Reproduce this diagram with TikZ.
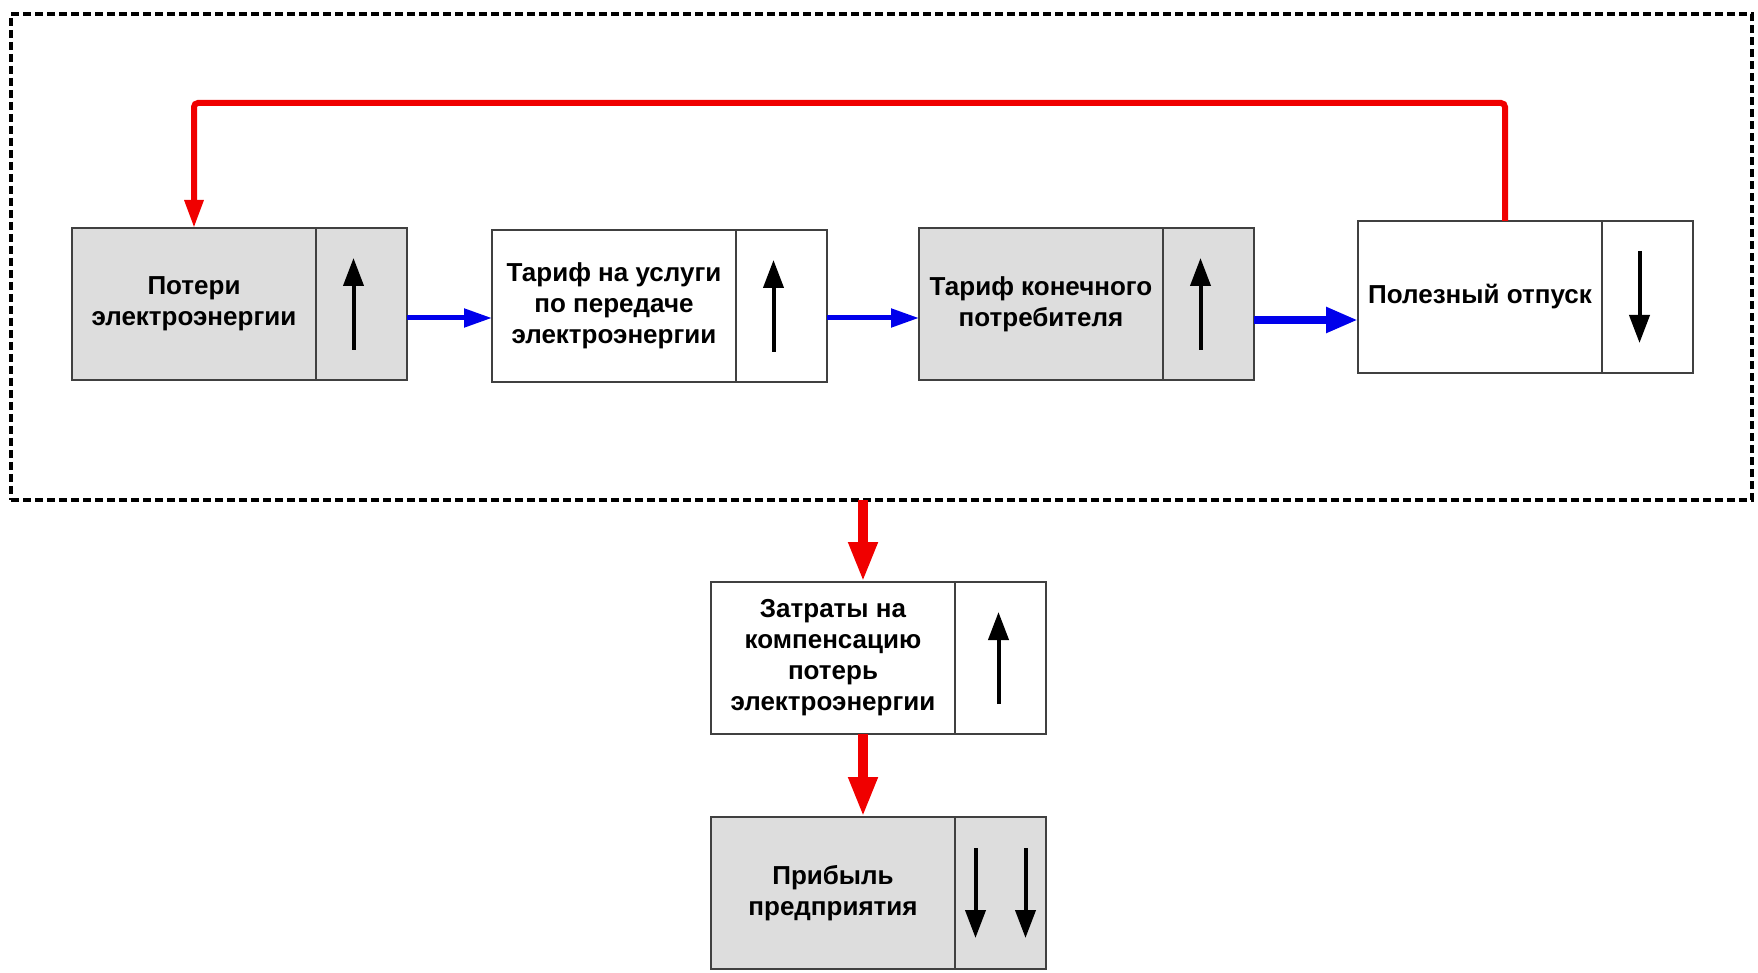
\documentclass[tikz,border=0pt]{standalone}
\usepackage{fontspec}
\setmainfont{Liberation Sans}
\usetikzlibrary{positioning,arrows.meta}
\definecolor{boxgray}{RGB}{221,221,221}
\definecolor{edgegray}{RGB}{64,64,64}
\definecolor{flowred}{RGB}{240,0,0}
\definecolor{flowblue}{RGB}{0,0,235}
\tikzset{
  cell/.style={draw=edgegray, line width=0.75pt, outer sep=0pt, minimum height=76pt,
    font=\bfseries\fontsize{13}{15.5}\selectfont, align=center},
  textcell/.style={cell, minimum width=122pt},
  trendcell/.style={cell, minimum width=45.5pt},
  shaded/.style={fill=boxgray},
  trend/.style={line width=2pt, -{Triangle[length=14pt,width=10pt]}},
  flow/.style={flowblue, line width=2.5pt, -{Triangle[length=14pt,width=9pt]}},
  feedback/.style={flowred, line width=3pt, rounded corners=2pt, -{Triangle[length=14pt,width=9pt]}},
  drop/.style={flowred, line width=5pt, -{Triangle[length=20pt,width=13.5pt]}},
  frame/.style={draw, line width=2pt, dash pattern=on 4pt off 2pt, outer sep=0pt}
}
\begin{document}
\begin{tikzpicture}[x=0.5pt, y=-0.5pt]
  \useasboundingbox (0,0) rectangle (1758,973);
  \node[frame, anchor=north west, minimum width=870.5pt, minimum height=243pt] (frame) at (11,14) {};

  % the four boxes inside the frame
  \node[textcell, shaded, anchor=north west] (p1) at (72,228) {Потери\\электроэнергии};
  \node[trendcell, shaded, right=0pt of p1] (p1r) {};
  \node[textcell, anchor=north west] (p2) at (492,230) {Тариф на услуги\\по передаче\\электроэнергии};
  \node[trendcell, right=0pt of p2] (p2r) {};
  \node[textcell, shaded, anchor=north west] (p3) at (919,228) {Тариф конечного\\потребителя};
  \node[trendcell, shaded, right=0pt of p3] (p3r) {};
  \node[textcell, anchor=north west] (p4) at (1358,221) {Полезный отпуск};
  \node[trendcell, right=0pt of p4] (p4r) {};

  % below the frame
  \node[textcell, anchor=north west] (p5) at (711,582) {Затраты на\\компенсацию\\потерь\\электроэнергии};
  \node[trendcell, right=0pt of p5] (p5r) {};
  \node[textcell, shaded, anchor=north west] (p6) at (711,817) {Прибыль\\предприятия};
  \node[trendcell, shaded, right=0pt of p6] (p6r) {};

  \draw[trend] ([xshift=-4pt,yshift=-23pt]p1r.center) -- ([xshift=-4pt,yshift=23pt]p1r.center);
  \draw[trend] ([xshift=-4pt,yshift=-23pt]p2r.center) -- ([xshift=-4pt,yshift=23pt]p2r.center);
  \draw[trend] ([xshift=-4pt,yshift=-23pt]p3r.center) -- ([xshift=-4pt,yshift=23pt]p3r.center);
  \draw[trend] ([xshift=-4pt,yshift=23pt]p4r.center) -- ([xshift=-4pt,yshift=-23pt]p4r.center);
  \draw[trend] ([xshift=-1pt,yshift=-23pt]p5r.center) -- ([xshift=-1pt,yshift=23pt]p5r.center);
  \foreach \dx in {-12.5pt,12.5pt}
    \draw[trend] ([xshift=\dx,yshift=22.5pt]p6r.center) -- ([xshift=\dx,yshift=-22.5pt]p6r.center);

  \coordinate (f1) at ([yshift=-7pt]p1r.east);
  \coordinate (f2) at ([yshift=-6pt]p2r.east);
  \coordinate (f3) at ([yshift=-8pt]p3r.east);
  \draw[flow] (f1) -- (f1 -| p2.west);
  \draw[flow] (f2) -- (f2 -| p3.west);
  \draw[flow, line width=4pt, -{Triangle[length=16pt,width=12pt]}] (f3) -- (f3 -| p4.west);

  \draw[feedback] ([xshift=12.5pt]p4.north) -- ++(0,59pt) -| (p1.north);

  \coordinate (d1) at ([xshift=15pt]p5.north);
  \draw[drop] (d1 |- frame.south) -- (d1);
  \draw[drop] ([xshift=15pt]p5.south) -- ([xshift=15pt]p6.north);
\end{tikzpicture}
\end{document}
